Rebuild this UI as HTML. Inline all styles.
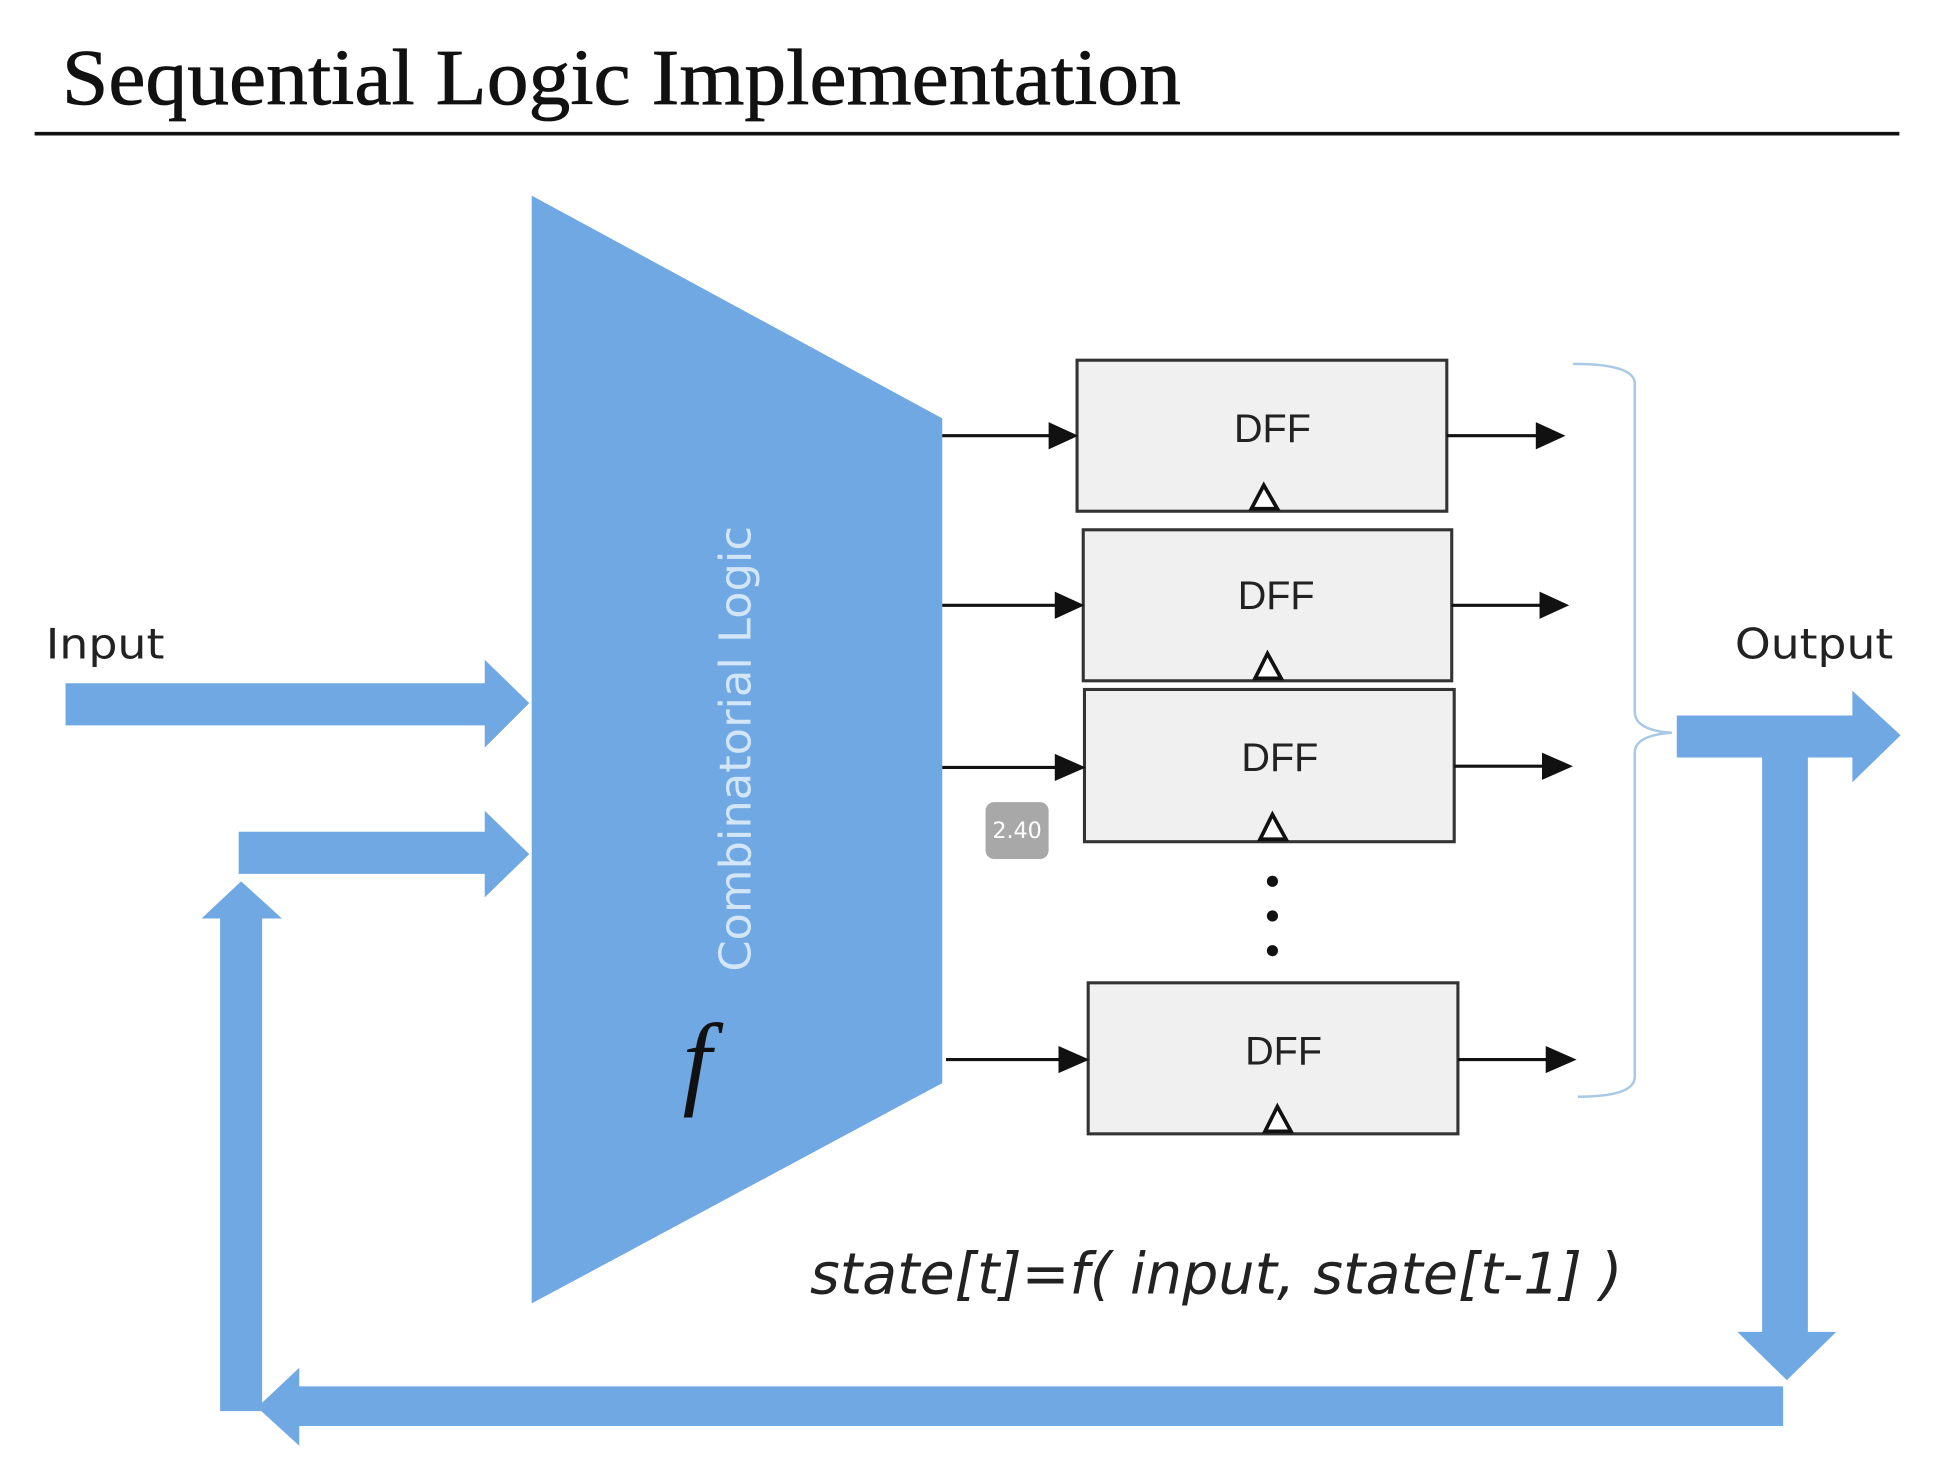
<!DOCTYPE html>
<html><head><meta charset="utf-8"><style>html,body{margin:0;padding:0;background:#fff;}svg{display:block;}</style></head>
<body>
<svg width="1934" height="1473" viewBox="0 0 1564 1190" preserveAspectRatio="none" xmlns="http://www.w3.org/2000/svg">
<rect width="1564" height="1190" fill="#fff"/>
<text x="50" y="84" font-family="Liberation Serif, serif" font-size="64" fill="#111" stroke="#111" stroke-width="0.6" textLength="905" lengthAdjust="spacingAndGlyphs">Sequential Logic Implementation</text>
<line x1="28" y1="108" x2="1536" y2="108" stroke="#111" stroke-width="3"/>
<g fill="#6fa8e2">
<polygon points="430,158 762,338 762,875 430,1053"/>
<polygon points="53,552 392,552 392,533 428,568 392,604 392,586 53,586"/>
<polygon points="193,672 392,672 392,655 428,690 392,725 392,706 193,706"/>
<polygon points="178,1140 178,742 163,742 195,712 228,742 212,742 212,1140"/>
<polygon points="1442,1120 242,1120 242,1105 208,1137 242,1168 242,1152 1442,1152"/>
<polygon points="1425,602 1462,602 1462,1076 1485,1076 1445,1115 1405,1076 1425,1076"/>
<polygon points="1356,578 1498,578 1498,558 1537,594 1498,632 1498,612 1356,612"/>
</g>
<text transform="translate(607,785) rotate(-90)" font-family="DejaVu Sans, sans-serif" font-size="35" fill="#d3e6f8" textLength="360" lengthAdjust="spacingAndGlyphs">Combinatorial Logic</text>
<text x="552" y="885" font-family="Liberation Serif, serif" font-style="italic" font-size="84" fill="#111">f</text>
<text x="37" y="532" font-family="DejaVu Sans, sans-serif" font-size="34" fill="#222" textLength="96" lengthAdjust="spacingAndGlyphs">Input</text>
<text x="1403" y="532" font-family="DejaVu Sans, sans-serif" font-size="34" fill="#222" textLength="128" lengthAdjust="spacingAndGlyphs">Output</text>
<text x="655" y="1045" font-family="DejaVu Sans, sans-serif" font-style="italic" font-size="46" fill="#222" textLength="657" lengthAdjust="spacingAndGlyphs">state[t]=f( input, state[t-1] )</text>
<g stroke="#333" stroke-width="2.5" fill="#f0f0f0">
<rect x="871" y="291" width="299" height="122"/>
<rect x="876" y="428" width="298" height="122"/>
<rect x="877" y="557" width="299" height="123"/>
<rect x="880" y="794" width="299" height="122"/>
</g>
<g font-family="Liberation Sans, sans-serif" font-size="32" fill="#222" text-anchor="middle">
<text x="1029" y="357">DFF</text><text x="1032" y="492">DFF</text><text x="1035" y="623">DFF</text><text x="1038" y="860">DFF</text>
</g>
<g stroke="#111" stroke-width="3" fill="#fff">
<polygon points="1022,392 1012,411 1033,411"/>
<polygon points="1025,528 1015,548 1036,548"/>
<polygon points="1029,658 1019,678 1040,678"/>
<polygon points="1033,894 1023,914 1044,914"/>
</g>
<g stroke="#111" stroke-width="2.5">
<line x1="762" y1="352" x2="850" y2="352"/><line x1="762" y1="489" x2="855" y2="489"/>
<line x1="762" y1="620" x2="855" y2="620"/><line x1="765" y1="856" x2="858" y2="856"/>
<line x1="1170" y1="352" x2="1245" y2="352"/><line x1="1174" y1="489" x2="1248" y2="489"/>
<line x1="1176" y1="619" x2="1250" y2="619"/><line x1="1179" y1="856" x2="1253" y2="856"/>
</g>
<g fill="#111">
<polygon points="848,341 872,352 848,363"/><polygon points="853,478 877,489 853,500"/>
<polygon points="853,609 878,620 853,631"/><polygon points="856,845 881,856 856,867"/>
<polygon points="1242,341 1266,352 1242,363"/><polygon points="1245,478 1269,489 1245,500"/>
<polygon points="1247,608 1272,619 1247,630"/><polygon points="1250,845 1275,856 1250,867"/>
<circle cx="1029" cy="712" r="4.5"/><circle cx="1029" cy="740" r="4.5"/><circle cx="1029" cy="768" r="4.5"/>
</g>
<path d="M1272,294 Q1322,294 1322,310 L1322,575 Q1322,590 1352,592 Q1322,594 1322,608 L1322,870 Q1322,886 1276,886" fill="none" stroke="#a9c8e4" stroke-width="2"/>
<rect x="797" y="648" width="51" height="46" rx="7" fill="#a8a8a8"/>
<text x="822.5" y="677" font-family="DejaVu Sans, sans-serif" font-size="18" fill="#fff" text-anchor="middle">2.40</text>
</svg>
</body></html>
